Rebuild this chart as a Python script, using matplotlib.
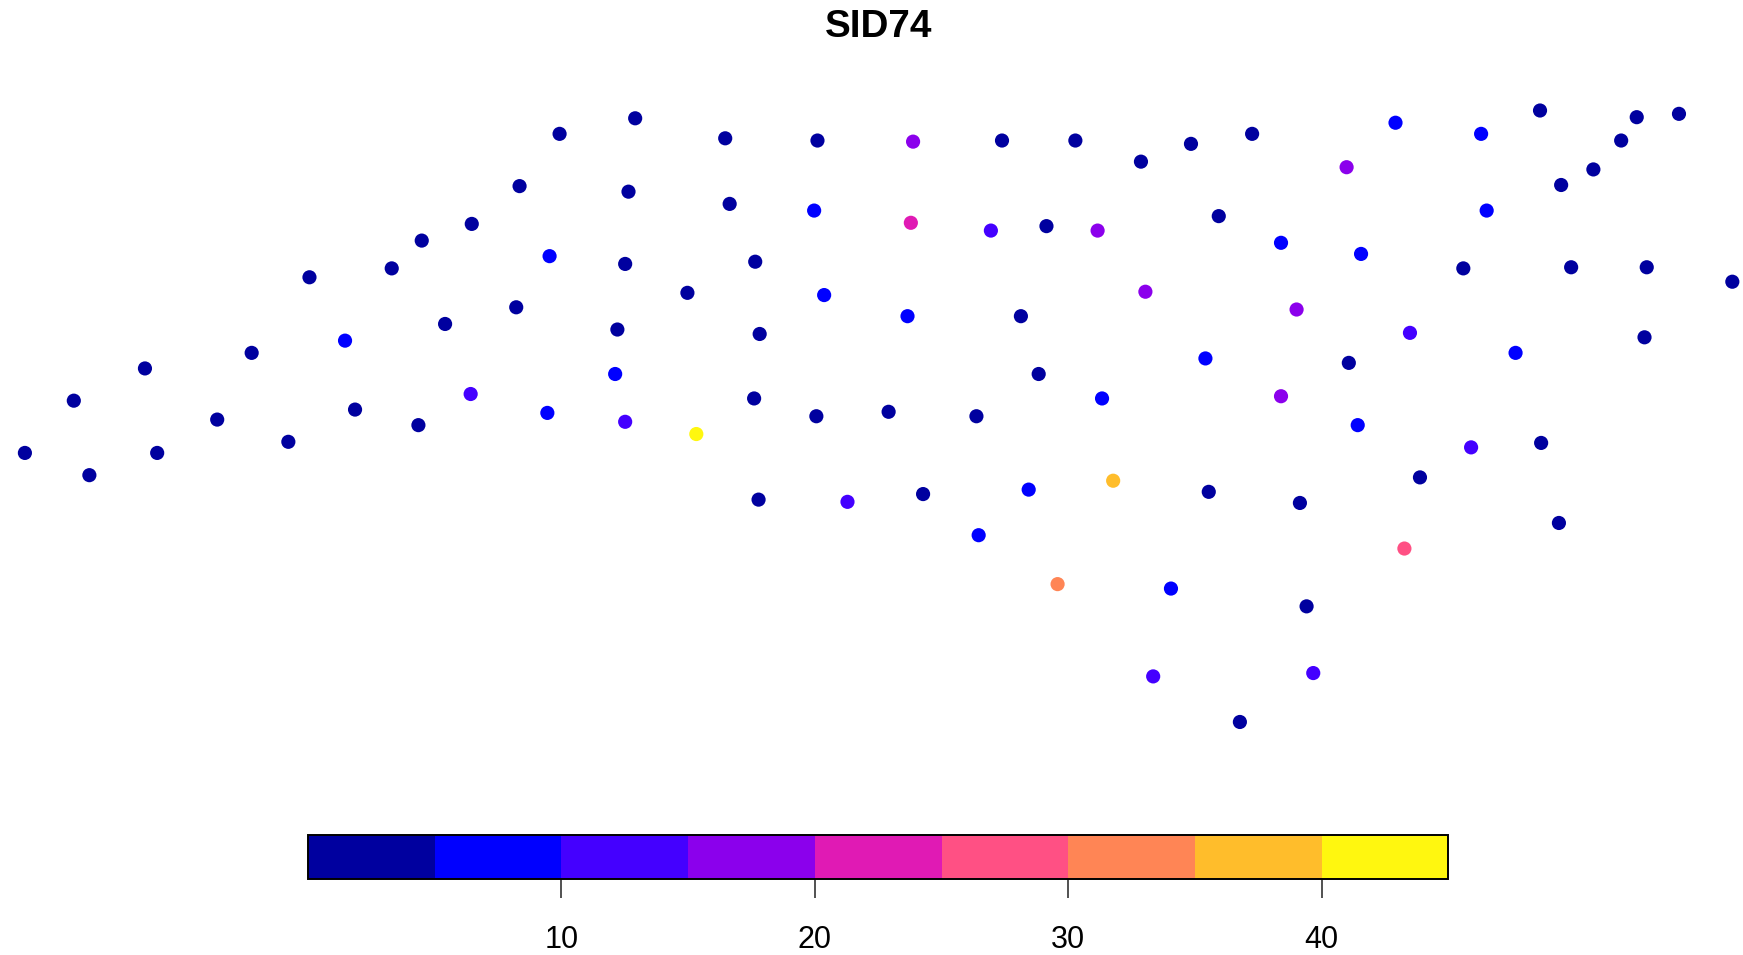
import numpy as np
from matplotlib import pyplot as plt
from matplotlib.colors import BoundaryNorm, ListedColormap

plt.rcParams['font.family'] = ['Liberation Sans', 'DejaVu Sans']

# County centroids (map units, y counts down from the top)
map_x = [22, 80, 141, 66, 130, 195, 259, 226, 319, 376,
         310, 278, 352, 379, 424, 467, 503, 571, 565, 494,
         562, 400, 464, 555, 553, 423, 492, 562, 626, 618,
         679, 656, 652, 735, 732, 821, 819, 901, 967, 1026,
         1071, 1126, 891, 941, 987, 1096, 1152, 1211, 1255, 1332,
         1385, 1472, 1510, 1458, 1433, 1404, 1337, 1224, 1316, 1413,
         1481, 1558, 1479, 1363, 1268, 1166, 1030, 741, 683, 816,
         918, 934, 1084, 1213, 678, 734, 799, 878, 991, 1152,
         1221, 1323, 1386, 1277, 1402, 1263, 1169, 1087, 1001, 925,
         830, 762, 682, 880, 951, 1053, 1175, 1181, 1037, 1115]
map_y = [407, 427, 407, 360, 331, 377, 397, 317, 368, 382,
         306, 249, 241, 216, 201, 167, 120, 106, 172, 230,
         237, 291, 276, 296, 336, 354, 371, 379, 390, 263,
         235, 183, 124, 126, 189, 127, 200, 126, 126, 145,
         129, 120, 207, 203, 207, 194, 218, 150, 110, 120,
         99, 105, 102, 126, 152, 166, 189, 228, 241, 240,
         240, 253, 303, 317, 299, 278, 262, 265, 300, 284,
         284, 336, 322, 326, 358, 374, 370, 374, 358, 356,
         382, 402, 398, 429, 470, 493, 452, 442, 432, 440,
         444, 451, 449, 481, 525, 529, 545, 605, 608, 649]

# SID74 for each county, estimated from the colour class of the point
sid74 = [2, 2, 2, 2, 2, 2, 2, 2, 2, 2,
         7, 2, 2, 2, 2, 2, 2, 2, 2, 7,
         2, 2, 2, 2, 7, 12, 7, 12, 44, 2,
         2, 2, 2, 2, 7, 17, 22, 2, 2, 2,
         2, 2, 12, 2, 17, 2, 7, 17, 7, 7,
         2, 2, 2, 2, 2, 2, 7, 7, 2, 2,
         2, 2, 2, 7, 12, 17, 17, 7, 2, 7,
         2, 2, 7, 2, 2, 2, 2, 2, 7, 17,
         7, 12, 2, 2, 2, 27, 2, 2, 37, 7,
         2, 12, 2, 7, 32, 7, 2, 12, 12, 2]

bin_edges = [0, 5, 10, 15, 20, 25, 30, 35, 40, 45]
bin_colors = ['#00009F', '#0000FF', '#4400FF', '#8B00EC', '#E01AB4',
              '#FF5084', '#FF8555', '#FFBD2B', '#FFF70F']
bar_ticks = [10, 20, 30, 40]

cmap = ListedColormap(bin_colors)
norm = BoundaryNorm(bin_edges, cmap.N)

fig = plt.figure(figsize=(17.43, 9.55), dpi=100)
ax = fig.add_axes([0, 0, 1, 1])
ax.scatter(map_x, map_y, c=np.array(sid74), cmap=cmap, norm=norm, s=104, linewidths=0, clip_on=False)
ax.set_xlim(-0.4, 1567.6)
ax.set_ylim(858.6, -0.4)
ax.axis('off')
ax.text(790, 24, 'SID74', fontsize=27.8, fontweight='bold', ha='center', va='center')

# Colour key along the bottom
cax = fig.add_axes([277 / 1568, 68 / 859, 1026 / 1568, 40 / 859])
cb = fig.colorbar(plt.cm.ScalarMappable(norm=norm, cmap=cmap), cax=cax, orientation='horizontal',
                  spacing='proportional', ticks=bar_ticks)
cb.outline.set_linewidth(1.4)
cb.minorticks_off()
cax.tick_params(axis='x', length=14, width=1.1, labelsize=22, pad=19, color='#222222')

fig.savefig('out.png', dpi=100)
